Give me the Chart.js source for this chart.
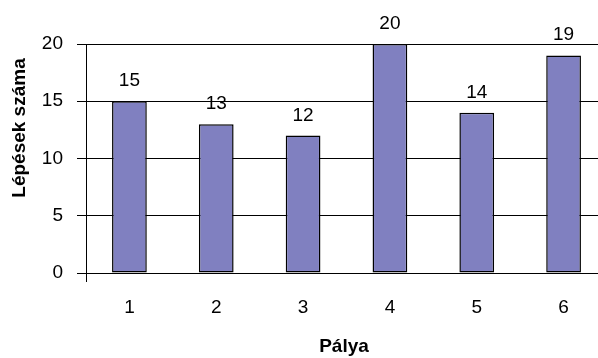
<!DOCTYPE html>
<html>
<head>
<meta charset="utf-8">
<script src="https://cdn.jsdelivr.net/npm/chart.js@4"></script>
<style>
  html, body { margin: 0; padding: 0; background: #fff; overflow: hidden; }
  #wrap { width: 607px; height: 358px; position: relative; }
</style>
</head>
<body>
<div id="wrap"><canvas id="c"></canvas></div>
<script>
// Number of steps per track
const palya = ['1', '2', '3', '4', '5', '6'];
const lepesek = [15, 13, 12, 20, 14, 19];
const yTicks = [0, 5, 10, 15, 20];
const xTitle = 'Pálya';
const yTitle = 'Lépések száma';

const FONT = "'Liberation Sans Narrow', 'Liberation Sans', Arial, sans-serif";
const TITLE_FONT = "bold 19px 'Liberation Sans', Arial, sans-serif";

const decorations = {
  id: 'decorations',
  afterDatasetsDraw(chart) {
    const ctx = chart.ctx;
    const meta = chart.getDatasetMeta(0);
    ctx.save();
    ctx.fillStyle = '#000';
    ctx.font = '19px ' + FONT;
    ctx.textAlign = 'center';
    ctx.textBaseline = 'alphabetic';
    meta.data.forEach((bar, i) => {
      ctx.fillText(String(lepesek[i]), bar.x, bar.y - 15);
    });
    ctx.restore();
  },
  afterDraw(chart) {
    const ctx = chart.ctx;
    const a = chart.chartArea;
    ctx.save();
    ctx.fillStyle = '#000';
    ctx.font = TITLE_FONT;
    ctx.textAlign = 'center';
    ctx.textBaseline = 'middle';
    ctx.fillText(xTitle, a.left + 258, 347);
    ctx.translate(20, 128);
    ctx.rotate(-Math.PI / 2);
    ctx.fillText(yTitle, 0, 0);
    ctx.restore();
    // small tick below the origin
    ctx.save();
    ctx.strokeStyle = '#000';
    ctx.lineWidth = 1;
    ctx.beginPath();
    ctx.moveTo(a.left + 0.5, a.bottom);
    ctx.lineTo(a.left + 0.5, a.bottom + 9);
    ctx.stroke();
    ctx.restore();
  }
};

new Chart(document.getElementById('c'), {
  type: 'bar',
  data: {
    labels: palya,
    datasets: [{
      data: lepesek,
      backgroundColor: '#8080C0',
      borderColor: '#000',
      borderWidth: 1.5,
      borderSkipped: false,
      categoryPercentage: 1,
      barPercentage: 0.4
    }]
  },
  options: {
    responsive: true,
    maintainAspectRatio: false,
    animation: false,
    layout: { padding: { top: 44, left: 0, right: 0, bottom: 0 } },
    plugins: { legend: { display: false }, tooltip: { enabled: false }, title: { display: false } },
    scales: {
      x: {
        offset: true,
        grid: { display: false },
        border: { display: true, color: '#000', width: 1 },
        ticks: { color: '#000', font: { family: FONT, size: 19 }, padding: 15 },
        afterFit(scale) { scale.height = 85; }
      },
      y: {
        min: 0,
        max: 20,
        afterBuildTicks(scale) { scale.ticks = yTicks.map(v => ({ value: v })); },
        grid: { color: '#000', lineWidth: 1, tickLength: 9, drawTicks: true },
        border: { display: true, color: '#000', width: 1 },
        ticks: { color: '#000', font: { family: FONT, size: 19 }, padding: 14 },
        afterFit(scale) { scale.width = 86; }
      }
    }
  },
  plugins: [decorations]
});
</script>
</body>
</html>
